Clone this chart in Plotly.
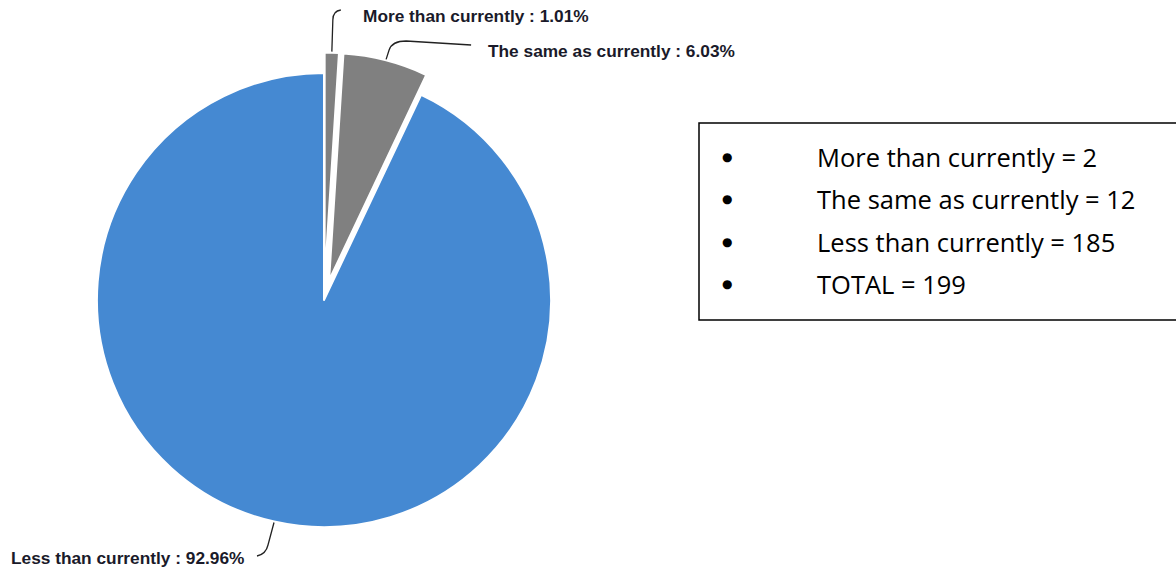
import math
import plotly.graph_objects as go

# ---- data ----
categories = ["More than currently", "The same as currently", "Less than currently"]
counts = [2, 12, 185]
percent_labels = ["1.01%", "6.03%", "92.96%"]
total_label = "TOTAL"
total_value = 199
colors = ["#808080", "#808080", "#4589D2"]
pulls = [0.09, 0.09, 0.0]

W, H = 1176, 572

def px(x):
    return x / W

def py(y):
    return 1 - y / H

# pie box (pixels)
cx, cy, box = 324, 300, 495
dom_x = [px(cx - box / 2), px(cx + box / 2)]
dom_y = [py(cy + box / 2), py(cy - box / 2)]
R = box / (2 + 2 * max(pulls))

fig = go.Figure(go.Pie(
    labels=categories,
    values=counts,
    sort=False,
    direction="clockwise",
    rotation=0,
    pull=pulls,
    marker=dict(colors=colors, line=dict(color="white", width=2)),
    textinfo="none",
    hoverinfo="skip",
    showlegend=False,
    domain=dict(x=dom_x, y=dom_y),
))

# leader-line anchor points derived from slice mid-angles
tot = sum(counts)
cum = 0
anchors = []
for v, p in zip(counts, pulls):
    mid = (cum + v / 2) / tot * 2 * math.pi
    cum += v
    ox = cx + p * R * math.sin(mid)
    oy = cy - p * R * math.cos(mid)
    anchors.append((ox + (R + 1) * math.sin(mid), oy - (R + 1) * math.cos(mid)))

label_pos = [(361, 16), (486, 51), (9, 558)]
shapes = []
annotations = []

def path_str(pts):
    s = ""
    for cmd, *c in pts:
        s += cmd + " " + " ".join(f"{px(c[i]):.5f},{py(c[i+1]):.5f}" for i in range(0, len(c), 2)) + " "
    return s.strip()

a0, a1, a2 = anchors
leaders = [
    [("M", a0[0], a0[1]), ("L", a0[0] + 1, 20), ("Q", a0[0] + 1, 11, a0[0] + 9, 10)],
    [("M", a1[0], a1[1]), ("L", a1[0] + 3, 50), ("Q", a1[0] + 6, 41, a1[0] + 20, 41), ("L", a1[0] + 85, 45)],
    [("M", a2[0], a2[1]), ("L", a2[0] - 6, 545), ("Q", a2[0] - 8, 554, a2[0] - 17, 556)],
]
for lp in leaders:
    shapes.append(dict(type="path", xref="paper", yref="paper", path=path_str(lp),
                       line=dict(color="#222222", width=1.3)))

for cat, pct, (lx, ly) in zip(categories, percent_labels, label_pos):
    annotations.append(dict(
        x=px(lx), y=py(ly), xref="paper", yref="paper", xanchor="left", yanchor="middle",
        text=f"<b>{cat} : {pct}</b>", showarrow=False,
        font=dict(family="Liberation Sans, Arial", size=17.3, color="#1a1a2a"),
    ))

# info box on the right (open on the right side: it runs off the page)
shapes.append(dict(type="path", xref="paper", yref="paper",
                   path=path_str([("M", 1200, 123), ("L", 699, 123), ("L", 699, 320), ("L", 1200, 320)]),
                   line=dict(color="black", width=1.5)))

box_lines = [f"{c} = {v}" for c, v in zip(categories, counts)] + [f"{total_label} = {total_value}"]
for i, t in enumerate(box_lines):
    yline = 157 + i * 42.3
    annotations.append(dict(x=px(727), y=py(yline), xref="paper", yref="paper",
                            xanchor="center", yanchor="middle", text="●", showarrow=False,
                            font=dict(family="DejaVu Sans", size=12, color="black")))
    annotations.append(dict(x=px(815), y=py(yline), xref="paper", yref="paper",
                            xanchor="left", yanchor="middle", text=t, showarrow=False,
                            font=dict(family="Open Sans", size=25.5, color="black")))

fig.update_layout(
    width=W, height=H,
    margin=dict(l=0, r=0, t=0, b=0),
    paper_bgcolor="white", plot_bgcolor="white",
    shapes=shapes, annotations=annotations,
)

fig.write_html(
    "out.html",
    config={"displayModeBar": False, "staticPlot": True},
    post_script="document.body.style.margin='0';document.body.style.overflow='hidden';",
)
